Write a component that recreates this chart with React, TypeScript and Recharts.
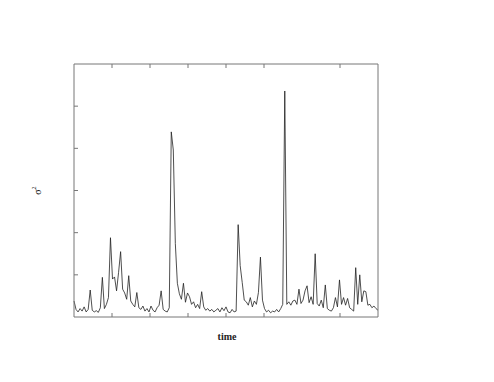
import { LineChart, Line, XAxis, YAxis } from "recharts";

// variance estimate sampled over time
const sigma2: number[] = [
  0.38, 0.18, 0.12, 0.2, 0.14, 0.24, 0.12, 0.18, 0.64, 0.16,
  0.12, 0.15, 0.11, 0.22, 0.94, 0.2, 0.3, 0.46, 1.88, 0.9,
  0.95, 0.62, 1.06, 1.55, 0.66, 0.57, 0.42, 0.98, 0.38, 0.3,
  0.24, 0.58, 0.22, 0.18, 0.26, 0.14, 0.2, 0.12, 0.26, 0.16,
  0.12, 0.22, 0.28, 0.62, 0.18, 0.14, 0.12, 0.22, 4.39, 3.96,
  1.74, 0.8, 0.55, 0.42, 0.8, 0.35, 0.57, 0.48, 0.3, 0.36,
  0.22, 0.3, 0.2, 0.6, 0.24, 0.16, 0.2, 0.14, 0.18, 0.12,
  0.16, 0.2, 0.12, 0.22, 0.15, 0.24, 0.12, 0.1, 0.18, 0.12,
  0.14, 2.19, 1.22, 0.82, 0.4, 0.36, 0.28, 0.46, 0.24, 0.38,
  0.3, 0.58, 1.42, 0.4, 0.2, 0.12, 0.16, 0.1, 0.14, 0.12,
  0.18, 0.12, 0.2, 0.3, 5.36, 0.3, 0.36, 0.28, 0.38, 0.4,
  0.3, 0.66, 0.32, 0.4, 0.62, 0.74, 0.34, 0.48, 0.3, 1.5,
  0.32, 0.26, 0.4, 0.22, 0.76, 0.2, 0.16, 0.14, 0.22, 0.46,
  0.24, 0.88, 0.3, 0.46, 0.28, 0.44, 0.22, 0.18, 0.14, 1.17,
  0.3, 1.0, 0.36, 0.62, 0.6, 0.28, 0.3, 0.22, 0.26, 0.2,
  0.16,
];

const xTicks = [18.75, 37.5, 56.25, 75, 93.75, 112.5, 131.25];
const yTicks = [1, 2, 3, 4, 5];

const data = sigma2.map((v, i) => ({ t: i, v }));

const frame = "#777";
const noLabel = () => <g />;

export default function App() {
  return (
    <div style={{ position: "relative", width: 478, height: 366 }}>
      <LineChart
        width={478}
        height={366}
        data={data}
        margin={{ top: 56, left: 66, right: 108, bottom: 57 }}
      >
        <XAxis
          xAxisId="b"
          dataKey="t"
          type="number"
          domain={[0, 150]}
          ticks={xTicks}
          orientation="bottom"
          height={1}
          mirror
          tick={noLabel}
          tickSize={4}
          stroke={frame}
        />
        <XAxis
          xAxisId="t"
          dataKey="t"
          type="number"
          domain={[0, 150]}
          ticks={xTicks}
          orientation="top"
          height={1}
          mirror
          tick={noLabel}
          tickSize={4}
          stroke={frame}
        />
        <YAxis
          yAxisId="l"
          type="number"
          domain={[0, 6]}
          ticks={yTicks}
          orientation="left"
          width={1}
          mirror
          tick={noLabel}
          tickSize={4}
          stroke={frame}
        />
        <YAxis
          yAxisId="r"
          type="number"
          domain={[0, 6]}
          ticks={yTicks}
          orientation="right"
          width={1}
          mirror
          tick={noLabel}
          tickSize={4}
          stroke={frame}
        />
        <Line
          xAxisId="b"
          yAxisId="l"
          type="linear"
          dataKey="v"
          stroke="#222"
          strokeWidth={0.8}
          dot={false}
          isAnimationActive={false}
        />
      </LineChart>
      <div
        style={{
          position: "absolute",
          left: 199,
          top: 323,
          width: 40,
          textAlign: "center",
          fontFamily: "'Liberation Serif', serif",
          fontWeight: "bold",
          fontSize: 10,
          color: "#222",
        }}
      >
        time
      </div>
      <div
        style={{
          position: "absolute",
          left: 19,
          top: 177,
          width: 20,
          textAlign: "center",
          transform: "rotate(-90deg)",
          fontFamily: "'Liberation Serif', serif",
          fontSize: 10,
          color: "#222",
        }}
      >
        σ<sup style={{ fontSize: 6 }}>2</sup>
      </div>
    </div>
  );
}
